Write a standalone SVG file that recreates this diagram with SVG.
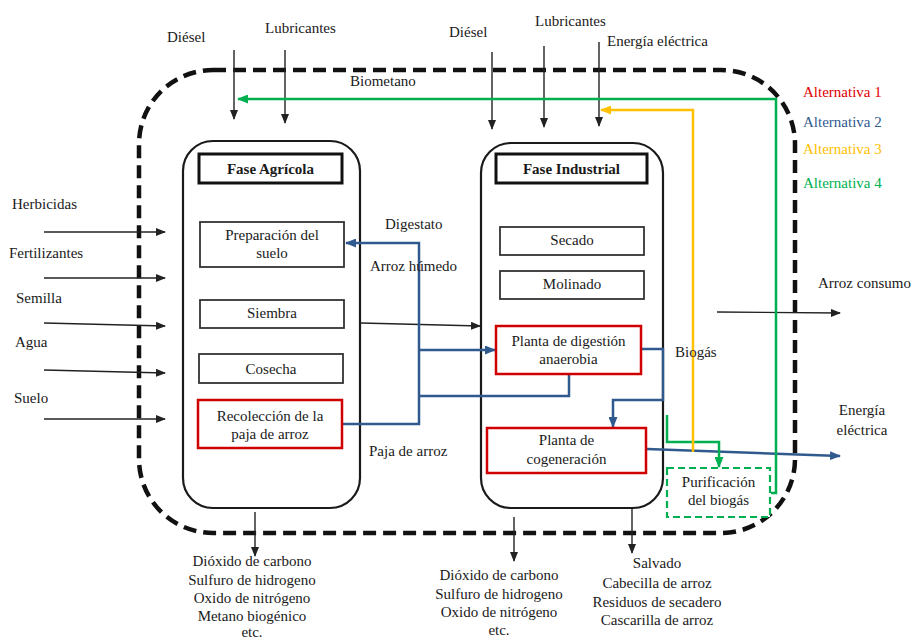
<svg xmlns="http://www.w3.org/2000/svg" width="915" height="641" viewBox="0 0 915 641" font-family="'Liberation Serif', 'DejaVu Serif', serif">
<style>
text{font-family:'Liberation Serif','DejaVu Serif',serif;font-size:15px;fill:#1a1a1a}
.c{text-anchor:middle}
.b{font-weight:bold}
.box{fill:#fff;stroke:#333;stroke-width:1.8}
.red{fill:#fff;stroke:#d00000;stroke-width:2.5}
.hdr{fill:#fff;stroke:#111;stroke-width:3}
.phase{fill:none;stroke:#1a1a1a;stroke-width:2.2}
.k{fill:none;stroke:#222;stroke-width:1.4}
.bl{fill:none;stroke:#305a8e;stroke-width:2.5}
.gr{fill:none;stroke:#00b050;stroke-width:2.5}
.ye{fill:none;stroke:#ffc000;stroke-width:2.5}
</style>
<defs>
<marker id="ak" markerWidth="10" markerHeight="8" refX="9" refY="4" orient="auto" markerUnits="userSpaceOnUse"><path d="M0,0 L10,4 L0,8 z" fill="#222"/></marker>
<marker id="ab" markerWidth="11" markerHeight="9" refX="10" refY="4.5" orient="auto" markerUnits="userSpaceOnUse"><path d="M0,0 L11,4.5 L0,9 z" fill="#305a8e"/></marker>
<marker id="ag" markerWidth="11" markerHeight="9" refX="10" refY="4.5" orient="auto" markerUnits="userSpaceOnUse"><path d="M0,0 L11,4.5 L0,9 z" fill="#00b050"/></marker>
<marker id="ay" markerWidth="11" markerHeight="9" refX="10" refY="4.5" orient="auto" markerUnits="userSpaceOnUse"><path d="M0,0 L11,4.5 L0,9 z" fill="#ffc000"/></marker>
</defs>
<rect width="915" height="641" fill="#fff"/>

<g id="boundary">
<rect x="139" y="70" width="656" height="463" rx="74" ry="74" fill="none" stroke="#111" stroke-width="4.5" stroke-dasharray="13,7"/>
</g>

<g id="fase-agricola">
<rect class="phase" x="183" y="141" width="177" height="367" rx="30"/>
</g>
<g id="fase-industrial">
<rect class="phase" x="481" y="143" width="182" height="365" rx="30"/>
</g>

<g id="connectors">
<path class="k" d="M44,232 H165" marker-end="url(#ak)"/>
<path class="k" d="M44,278 H165" marker-end="url(#ak)"/>
<path class="k" d="M44,323 L165,326" marker-end="url(#ak)"/>
<path class="k" d="M44,370 L165,373" marker-end="url(#ak)"/>
<path class="k" d="M44,419 H165" marker-end="url(#ak)"/>
<path class="k" d="M234,50 V119" marker-end="url(#ak)"/>
<path class="k" d="M285,50 V123" marker-end="url(#ak)"/>
<path class="k" d="M492,52 V129" marker-end="url(#ak)"/>
<path class="k" d="M544,46 V127" marker-end="url(#ak)"/>
<path class="k" d="M599,42 V126" marker-end="url(#ak)"/>
<path class="k" d="M255,512 V556" marker-end="url(#ak)"/>
<path class="k" d="M514,517 V561" marker-end="url(#ak)"/>
<path class="k" d="M632,508 V553" marker-end="url(#ak)"/>
<path class="k" d="M361,323 L480,326" marker-end="url(#ak)"/>
<path class="k" d="M717,312 L840,313" stroke-width="2" marker-end="url(#ak)"/>
<path class="bl" d="M342,424 H419 V243 H346" marker-end="url(#ab)"/>
<path class="bl" d="M419,350 H495" marker-end="url(#ab)"/>
<path class="bl" d="M569,374 V396 H419"/>
<path class="bl" d="M641,349 H663 V400 H613 V427" marker-end="url(#ab)"/>
<path class="bl" d="M647,449 L840,456" marker-end="url(#ab)"/>
<path class="gr" d="M771,493 H776 V99 H238" marker-end="url(#ag)"/>
<path class="gr" d="M667,415 V442 H719 V467" marker-end="url(#ag)"/>
<path class="ye" d="M693,452 V110 H601" marker-end="url(#ay)"/>
</g>

<g id="hdr-agricola">
<rect class="hdr" x="199" y="154" width="143" height="29"/>
<text class="c b" x="270.5" y="174">Fase Agrícola</text>
</g>
<g id="preparacion">
<rect class="box" x="200" y="222" width="144" height="45"/>
<text class="c" x="272" y="240">Preparación del</text>
<text class="c" x="272" y="258">suelo</text>
</g>
<g id="siembra">
<rect class="box" x="200" y="300" width="144" height="28"/>
<text class="c" x="272" y="318">Siembra</text>
</g>
<g id="cosecha">
<rect class="box" x="199" y="354" width="144" height="29"/>
<text class="c" x="271" y="374">Cosecha</text>
</g>
<g id="recoleccion">
<rect class="red" x="198" y="400" width="144" height="48"/>
<text class="c" x="270" y="421">Recolección de la</text>
<text class="c" x="270" y="439">paja de arroz</text>
</g>

<g id="hdr-industrial">
<rect class="hdr" x="496" y="154" width="151" height="29"/>
<text class="c b" x="571.5" y="174">Fase Industrial</text>
</g>
<g id="secado">
<rect class="box" x="500" y="227" width="144" height="28"/>
<text class="c" x="572" y="245">Secado</text>
</g>
<g id="molinado">
<rect class="box" x="500" y="271" width="144" height="28"/>
<text class="c" x="572" y="289">Molinado</text>
</g>
<g id="digestion">
<rect class="red" x="496" y="326" width="145" height="48"/>
<text class="c" x="568.5" y="346">Planta de digestión</text>
<text class="c" x="568.5" y="364">anaerobia</text>
</g>
<g id="cogeneracion">
<rect class="red" x="487" y="428" width="159" height="45"/>
<text class="c" x="566.5" y="445">Planta de</text>
<text class="c" x="566.5" y="464">cogeneración</text>
</g>
<g id="purificacion">
<rect x="667" y="468" width="103" height="49" fill="#fff" stroke="#00b050" stroke-width="2.2" stroke-dasharray="7,4"/>
<text class="c" x="718.5" y="487">Purificación</text>
<text class="c" x="718.5" y="505">del biogás</text>
</g>

<g id="labels">
<text x="167" y="42">Diésel</text>
<text x="265" y="33">Lubricantes</text>
<text x="449" y="37">Diésel</text>
<text x="535" y="26">Lubricantes</text>
<text x="607" y="46">Energía eléctrica</text>
<text x="350" y="86">Biometano</text>
<text x="12" y="209">Herbicidas</text>
<text x="9" y="258">Fertilizantes</text>
<text x="16" y="303">Semilla</text>
<text x="15" y="347">Agua</text>
<text x="14" y="403">Suelo</text>
<text x="385" y="229">Digestato</text>
<text x="370" y="271">Arroz húmedo</text>
<text x="369" y="456">Paja de arroz</text>
<text x="675" y="357">Biogás</text>
<text x="818" y="288">Arroz consumo</text>
<text class="c" x="862" y="415">Energía</text>
<text class="c" x="862" y="435">eléctrica</text>
<text x="803" y="97" style="fill:#e00000">Alternativa 1</text>
<text x="803" y="127" style="fill:#305a8e">Alternativa 2</text>
<text x="803" y="154" style="fill:#ffc000">Alternativa 3</text>
<text x="803" y="188" style="fill:#00b050">Alternativa 4</text>
<text class="c" x="252" y="566">Dióxido de carbono</text>
<text class="c" x="252" y="585">Sulfuro de hidrogeno</text>
<text class="c" x="252" y="603">Oxido de nitrógeno</text>
<text class="c" x="252" y="621">Metano biogénico</text>
<text class="c" x="252" y="637">etc.</text>
<text class="c" x="499" y="580">Dióxido de carbono</text>
<text class="c" x="499" y="599">Sulfuro de hidrogeno</text>
<text class="c" x="499" y="617">Oxido de nitrógeno</text>
<text class="c" x="499" y="635">etc.</text>
<text class="c" x="657" y="568">Salvado</text>
<text class="c" x="657" y="588">Cabecilla de arroz</text>
<text class="c" x="657" y="607">Residuos de secadero</text>
<text class="c" x="657" y="625">Cascarilla de arroz</text>
</g>
</svg>
